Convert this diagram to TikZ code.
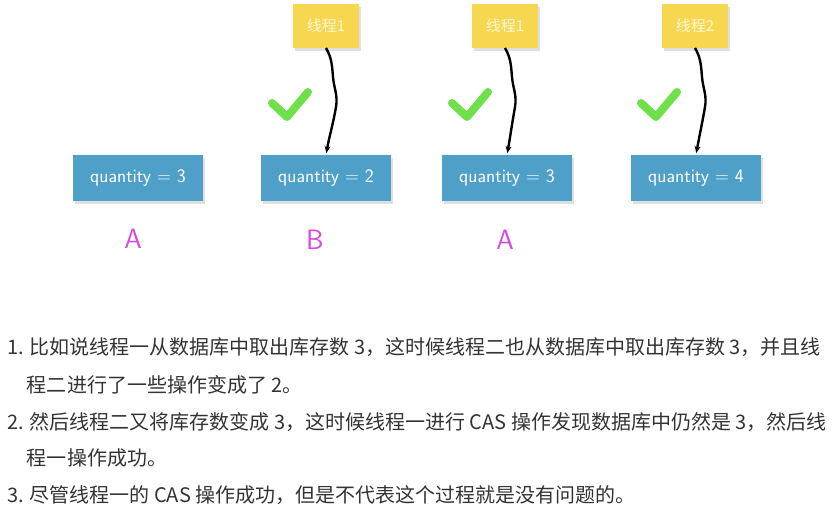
\documentclass[tikz,border=0pt]{standalone}
\usepackage{fontspec}
\newfontfamily\cjk{Noto Sans CJK SC}
\usetikzlibrary{arrows.meta,shadows}

\definecolor{boxblue}{RGB}{78,160,200}
\definecolor{noteyellow}{RGB}{247,214,80}
\definecolor{notetext}{RGB}{255,248,215}
\definecolor{tickgreen}{RGB}{110,224,74}
\definecolor{labelpink}{RGB}{212,74,226}
\definecolor{textgray}{RGB}{51,51,51}

\begin{document}
\begin{tikzpicture}[x=1pt,y=-1pt]
\tikzset{ >={Stealth[length=7pt,width=6pt]}, inner sep=0pt, outer sep=0pt,
  valbox/.style={fill=boxblue, minimum width=130pt, minimum height=46pt, text=white,
    font=\sffamily\fontsize{19}{19}\selectfont,
    drop shadow={opacity=0.25, shadow xshift=2pt, shadow yshift=-3pt}},
  notebox/.style={fill=noteyellow, minimum width=66pt, minimum height=44pt, text=notetext,
    font=\cjk\fontsize{15}{15}\selectfont,
    drop shadow={opacity=0.25, shadow xshift=2pt, shadow yshift=-3pt}},
  wire/.style={->, line width=2.4pt, black, shorten >=2pt},
  checkmark/.style={tickgreen, line width=8pt, line cap=round, line join=round},
  letterlbl/.style={text=labelpink, font=\sffamily\fontsize{28}{28}\selectfont},
  listline/.style={anchor=base west, text=textgray, font=\cjk\fontsize{20}{20}\selectfont},
}

\useasboundingbox (0,0) rectangle (832,510);
%\draw [lightgray, dashed](0,0) grid[step=50] (832,510);

% database values
\node [valbox] (b1) at (138,178) {quantity = 3};
\node [valbox] (b2) at (326,178) {quantity = 2};
\node [valbox] (b3) at (507,178) {quantity = 3};
\node [valbox] (b4) at (696,178) {quantity = 4};

% threads
\node [notebox] (t1) at (326,26) {线程1};
\node [notebox] (t2) at (505,26) {线程1};
\node [notebox] (t3) at (695,26) {线程2};

\draw [wire] (t1.south) to[out=-60,in=95] ++(7,29) to[out=-85,in=80] ++(3,30) to[out=-100,in=80] (b2.north);
\draw [wire] (t2.south) to[out=-60,in=95] ++(7,29) to[out=-85,in=80] ++(3,30) to[out=-100,in=80] (b3.north);
\draw [wire] (t3.south) to[out=-60,in=95] ++(7,29) to[out=-85,in=80] ++(3,30) to[out=-100,in=80] (b4.north);

\foreach \dx in {0,180,369}
  \draw [checkmark] (272+\dx,103) -- (287+\dx,117) -- (308+\dx,92);

\node [letterlbl] (la) at (133,239) {A};
\node [letterlbl] (lb) at (315,240) {B};
\node [letterlbl] (lc) at (505,240) {A};

% explanation
\node [listline] (l1) at (7,355) {1. 比如说线程一从数据库中取出库存数 3，这时候线程二也从数据库中取出库存数 3，并且线};
\node [listline] (l2) at (27,392) {程二进行了一些操作变成了 2。};
\node [listline] (l3) at (7,429) {2. 然后线程二又将库存数变成 3，这时候线程一进行 CAS 操作发现数据库中仍然是 3，然后线};
\node [listline] (l4) at (27,465) {程一操作成功。};
\node [listline] (l5) at (7,502) {3. 尽管线程一的 CAS 操作成功，但是不代表这个过程就是没有问题的。};

\end{tikzpicture}
\end{document}
